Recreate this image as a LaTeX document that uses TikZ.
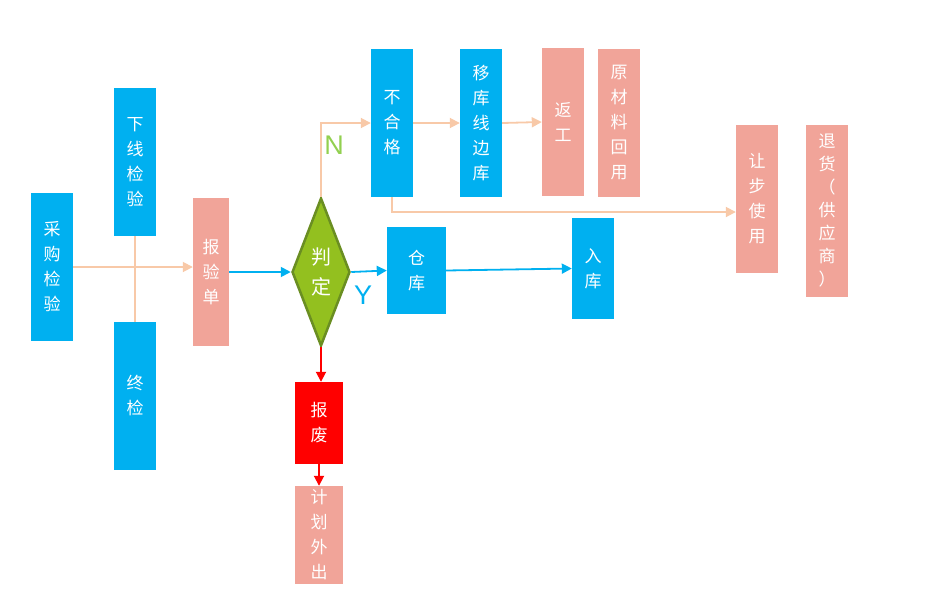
\documentclass[tikz,border=0pt]{standalone}
\usepackage{fontspec}
\newfontfamily\cjk{Noto Sans CJK SC}
\setsansfont{Liberation Sans}
\usetikzlibrary{arrows.meta,shapes.geometric}
\definecolor{cblue}{HTML}{00B0F0}
\definecolor{csalmon}{HTML}{F1A499}
\definecolor{cpeach}{HTML}{F8C9A8}
\definecolor{cred}{HTML}{FF0000}
\definecolor{cgreen}{HTML}{93C01F}
\definecolor{cdkgreen}{HTML}{6A8E22}
\definecolor{cnlab}{HTML}{92D050}
\tikzset{
  box/.style={rectangle,inner sep=0pt,minimum width=42pt,minimum height=148pt,
    text=white,align=center,font=\cjk\fontsize{17}{25}\selectfont},
  bbox/.style={box,fill=cblue},
  sbox/.style={box,fill=csalmon},
  peachline/.style={draw=cpeach,line width=1.8pt,-{Triangle[length=10pt,width=10pt]}},
  blueline/.style={draw=cblue,line width=1.8pt,-{Triangle[length=10pt,width=10pt]}},
  redline/.style={draw=cred,line width=1.8pt,-{Triangle[length=10pt,width=10pt]}},
  lbl/.style={font=\sffamily\fontsize{27}{27}\selectfont},
}
\begin{document}
\begin{tikzpicture}[x=1pt,y=-1pt]
\useasboundingbox (0,0) rectangle (933,600);
% nodes
\node[bbox] (cg) at (52,267) {采\\购\\检\\验};
\node[bbox] (xx) at (135,162) {下\\线\\检\\验};
\node[bbox] (zj) at (135,396) {终\\检};
\node[sbox,minimum width=36pt] (byd) at (211,272) {报\\验\\单};
\node[diamond,aspect=0.4,inner sep=0pt,minimum width=58pt,minimum height=148pt,
  fill=cgreen,draw=cdkgreen,line width=2.5pt,text=white,align=center,
  font=\cjk\fontsize{20}{30}\selectfont] (pd) at (321,272) {判\\定};
\node[bbox,minimum width=59pt,minimum height=87pt] (ck) at (416.5,270.5) {仓\\库};
\node[bbox,minimum height=101pt] (rk) at (593,268.5) {入\\库};
\node[bbox] (bhg) at (392,123) {不\\合\\格};
\node[bbox] (yk) at (481,123) {移\\库\\线\\边\\库};
\node[sbox] (fg) at (563,122) {返\\工};
\node[sbox] (ycl) at (619,123) {原\\材\\料\\回\\用};
\node[sbox] (rb) at (757,199) {让\\步\\使\\用};
\node[sbox,minimum height=172pt,font=\cjk\fontsize{17}{23}\selectfont] (th) at (827,211) {退\\货\\（\\供\\应\\商\\）};
\node[box,fill=cred,minimum width=48pt,minimum height=82pt] (bf) at (319,423) {报\\废};
\node[sbox,minimum width=48pt,minimum height=98pt] (jh) at (319,535) {计\\划\\外\\出};
% labels
\node[lbl,text=cnlab] (nlab) at (334,145) {N};
\node[lbl,text=cblue] (ylab) at (363,295) {Y};
% connectors
\draw[peachline] (cg.east) -- (cg.east -| byd.west);
\draw[draw=cpeach,line width=1.8pt] (xx.south) -- (zj.north);
\draw[blueline] (byd.east) -- (pd.west);
\draw[blueline] (pd.east) -- (ck.west);
\draw[blueline] (ck.east) -- (rk.west);
\draw[peachline] (pd.north) |- (bhg.west);
\draw[peachline] (bhg.east) -- (yk.west);
\draw[peachline] (yk.east) -- (fg.west);
\draw[peachline] (bhg.south) |- (rb.west |- 0,212);
\draw[redline] (pd.south) -- (pd.south |- bf.north);
\draw[redline] (bf.south) -- (jh.north);
\end{tikzpicture}
\end{document}
